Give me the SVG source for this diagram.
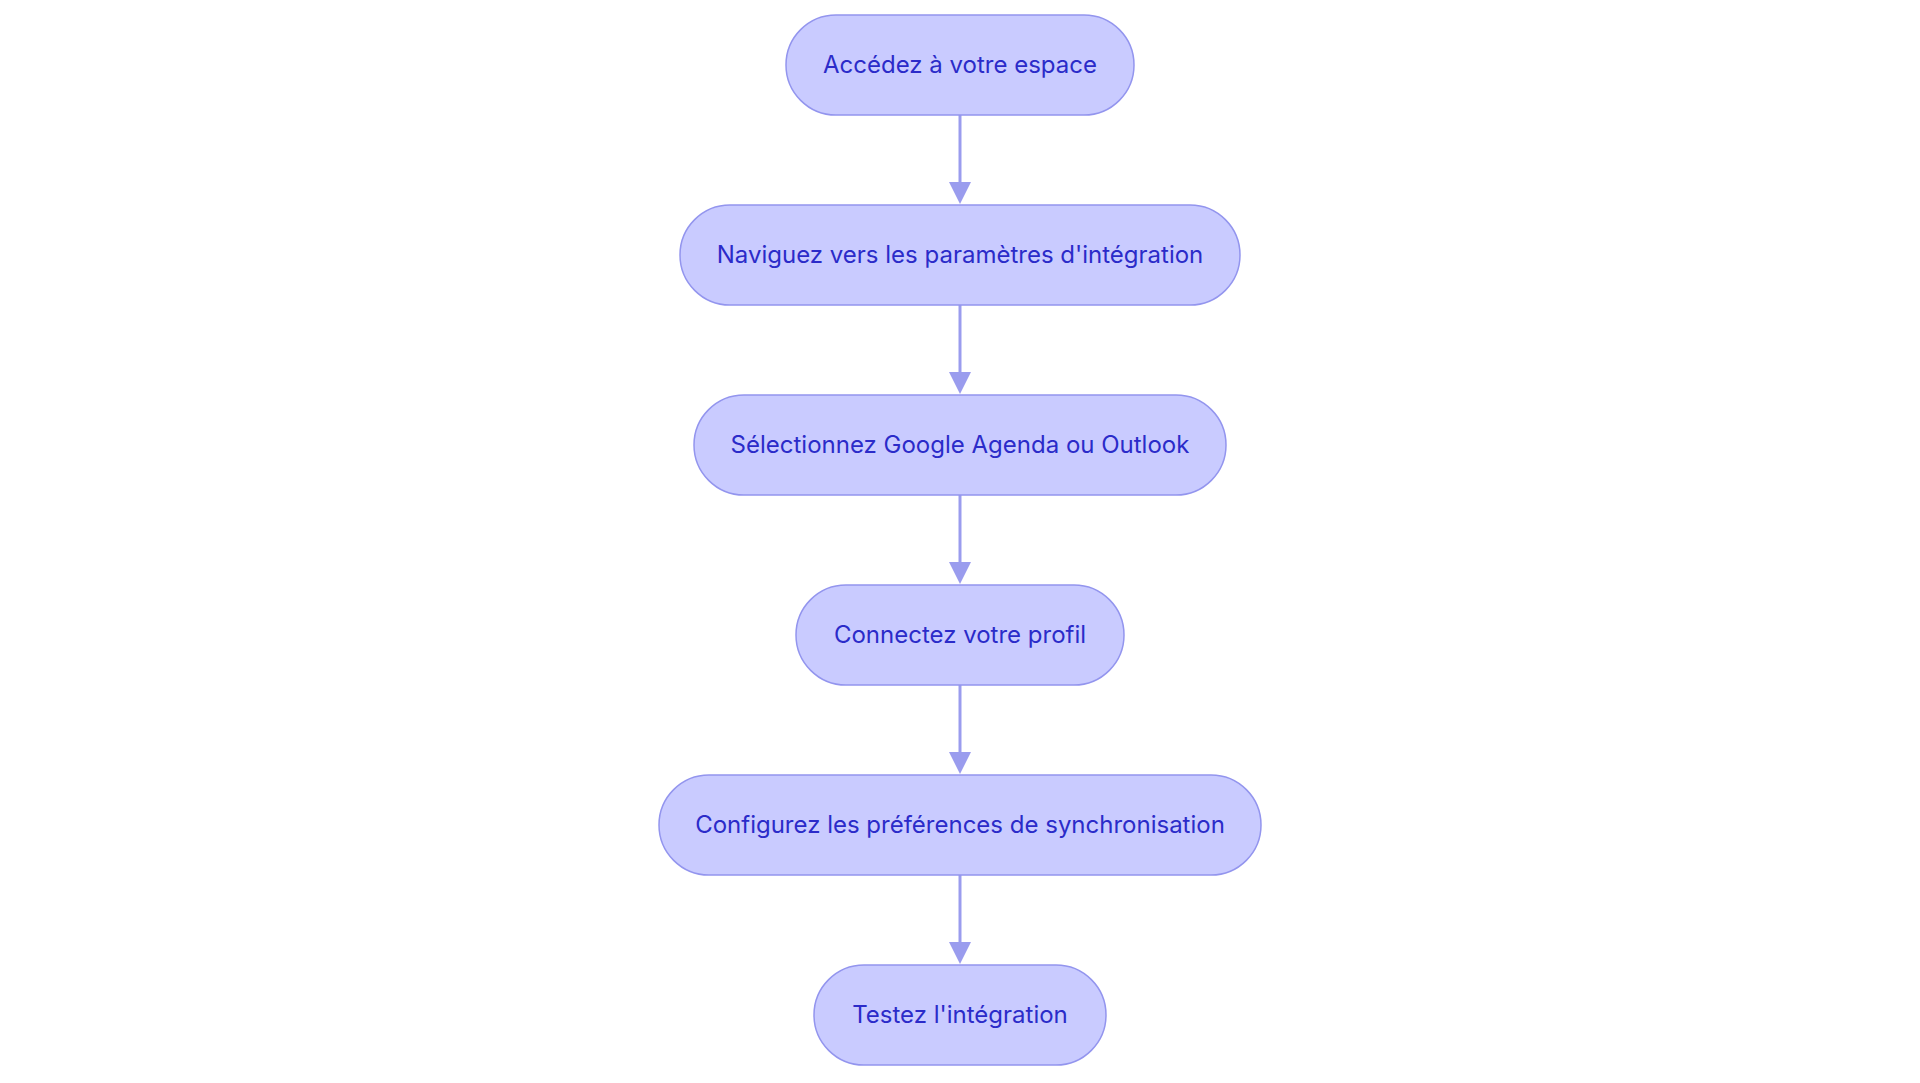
<svg xmlns="http://www.w3.org/2000/svg" width="1920" height="1083" viewBox="0 0 1920 1083">
<style>
.n rect{fill:#c9cbff;stroke:#9395ee;stroke-width:1.5}
.n text{font-family:Inter,"Noto Sans",sans-serif;font-size:24px;fill:#2b2bc9;text-anchor:middle;dominant-baseline:central}
.c line{stroke:#9a9cee;stroke-width:3}
</style>
<defs><marker id="a" markerWidth="8" markerHeight="8" refX="4" refY="4" orient="auto" markerUnits="userSpaceOnUse" viewBox="0 0 8 8"><path d="M0,0L8,4L0,8z" fill="#9a9cee"/></marker></defs>
<rect width="1920" height="1083" fill="#fff"/>
<g class="c">
<line x1="960" y1="115" x2="960" y2="186" marker-end="url(#a)" style="marker-end:none"/>
<path d="M949,182L960,204L971,182z" fill="#9a9cee"/>
<line x1="960" y1="305" x2="960" y2="376"/>
<path d="M949,372L960,394L971,372z" fill="#9a9cee"/>
<line x1="960" y1="495" x2="960" y2="566"/>
<path d="M949,562L960,584L971,562z" fill="#9a9cee"/>
<line x1="960" y1="685" x2="960" y2="756"/>
<path d="M949,752L960,774L971,752z" fill="#9a9cee"/>
<line x1="960" y1="875" x2="960" y2="946"/>
<path d="M949,942L960,964L971,942z" fill="#9a9cee"/>
</g>
<g id="n1" class="n"><rect x="786" y="15" width="348" height="100" rx="50"/><text x="960" y="64">Accédez à votre espace</text></g>
<g id="n2" class="n"><rect x="680" y="205" width="560" height="100" rx="50"/><text x="960" y="254">Naviguez vers les paramètres d'intégration</text></g>
<g id="n3" class="n"><rect x="694" y="395" width="532" height="100" rx="50"/><text x="960" y="444">Sélectionnez Google Agenda ou Outlook</text></g>
<g id="n4" class="n"><rect x="796" y="585" width="328" height="100" rx="50"/><text x="960" y="634">Connectez votre profil</text></g>
<g id="n5" class="n"><rect x="659" y="775" width="602" height="100" rx="50"/><text x="960" y="824">Configurez les préférences de synchronisation</text></g>
<g id="n6" class="n"><rect x="814" y="965" width="292" height="100" rx="50"/><text x="960" y="1014">Testez l'intégration</text></g>
</svg>
